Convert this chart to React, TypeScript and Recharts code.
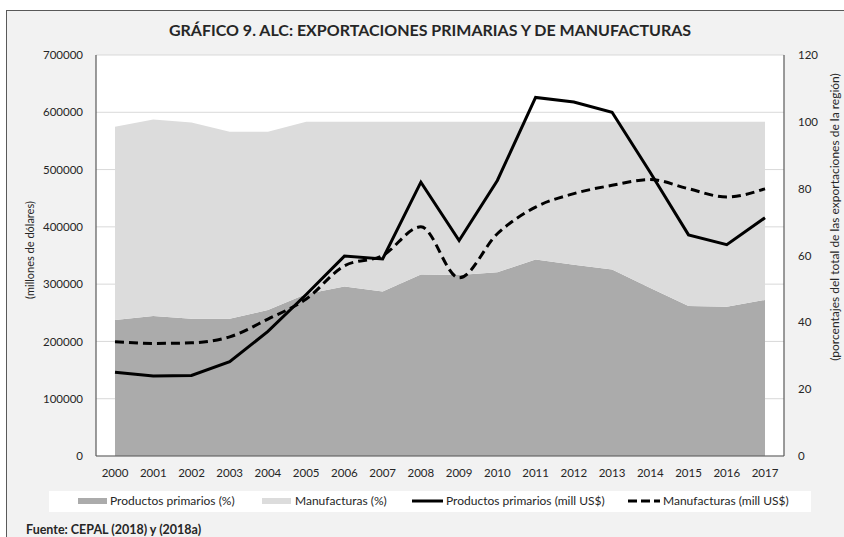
import React from 'react';
import { ComposedChart, Area, Line, XAxis, YAxis, CartesianGrid } from 'recharts';

const years = ['2000', '2001', '2002', '2003', '2004', '2005', '2006', '2007', '2008', '2009', '2010', '2011', '2012', '2013', '2014', '2015', '2016', '2017'];
const primariosPct = [40.7, 41.9, 41.1, 41.1, 43.7, 48.5, 50.7, 49.2, 54.3, 54.2, 55.0, 58.8, 57.2, 55.8, 50.3, 44.9, 44.7, 46.7];
const manufacturasPct = [57.8, 58.8, 58.7, 55.9, 53.3, 51.5, 49.3, 50.8, 45.7, 45.8, 45.0, 41.2, 42.8, 44.2, 49.7, 55.1, 55.3, 53.3];
const primariosMill = [146000, 139500, 140500, 164500, 217500, 282000, 349000, 344000, 478000, 376000, 481000, 626000, 618000, 600000, 495000, 386000, 369000, 416000];
const manufacturasMill = [199500, 196500, 197500, 208000, 239000, 274000, 332000, 350000, 400000, 311000, 388000, 434500, 458000, 472500, 482500, 466500, 452000, 466500];
const leftTicks = [0, 100000, 200000, 300000, 400000, 500000, 600000, 700000];
const rightTicks = [0, 20, 40, 60, 80, 100, 120];

const legendItems = [
  { label: 'Productos primarios (%)', kind: 'box', color: '#ababab', x: 78, tx: 110 },
  { label: 'Manufacturas (%)', kind: 'box', color: '#dcdcdc', x: 262, tx: 295 },
  { label: 'Productos primarios (mill US$)', kind: 'line', color: '#000000', x: 412, tx: 446 },
  { label: 'Manufacturas (mill US$)', kind: 'dash', color: '#000000', x: 628, tx: 663 },
];

const data = years.map((y, i) => ({
  year: y,
  pp: primariosPct[i],
  mp: manufacturasPct[i],
  pm: primariosMill[i],
  mm: manufacturasMill[i],
}));

const FONT = 'Lato, "Open Sans", sans-serif';
const tickStyle = { fontSize: 11.5, fill: '#262626', fontFamily: FONT };

export default function App() {
  return (
    <div style={{ position: 'absolute', left: 0, top: 0, width: 844, height: 537, overflow: 'hidden', background: '#ffffff', fontFamily: FONT }}>
      <div style={{ position: 'absolute', left: 6, top: 10, width: 860, height: 560, border: '1.5px solid #595959', background: '#f2f2f2' }} />
      <div style={{ position: 'absolute', left: 0, top: 0 }}>
        <ComposedChart width={844} height={537} data={data} margin={{ top: 55, right: 0, bottom: 51, left: 0 }}>
          <CartesianGrid xAxisId="bottom" yAxisId="left" vertical={false} stroke="#d9d9d9" fill="#ffffff" fillOpacity={1} />
          <XAxis
            xAxisId="bottom"
            dataKey="year"
            scale="point"
            padding={{ left: 19, right: 19 }}
            height={30}
            interval={0}
            tickLine={false}
            tickSize={0}
            tickMargin={13}
            axisLine={{ stroke: '#595959', strokeWidth: 1.2 }}
            tick={tickStyle}
          />
          <XAxis
            xAxisId="top"
            dataKey="year"
            orientation="top"
            scale="point"
            padding={{ left: 19, right: 19 }}
            height={0}
            tick={false}
            tickLine={false}
            axisLine={{ stroke: '#595959', strokeWidth: 1.2 }}
          />
          <YAxis
            yAxisId="left"
            width={96}
            domain={[0, 700000]}
            ticks={leftTicks}
            interval={0}
            tickLine={false}
            tickSize={0}
            tickMargin={13}
            axisLine={{ stroke: '#595959', strokeWidth: 1.2 }}
            tick={tickStyle}
          />
          <YAxis
            yAxisId="right"
            orientation="right"
            width={60}
            domain={[0, 120]}
            ticks={rightTicks}
            interval={0}
            tickLine={false}
            tickSize={0}
            tickMargin={14}
            axisLine={{ stroke: '#595959', strokeWidth: 1.2 }}
            tick={{ ...tickStyle, textAnchor: 'start' }}
          />
          <Area xAxisId="bottom" yAxisId="right" type="linear" dataKey="pp" stackId="pct" fill="#ababab" fillOpacity={1} stroke="none" isAnimationActive={false} />
          <Area xAxisId="bottom" yAxisId="right" type="linear" dataKey="mp" stackId="pct" fill="#dcdcdc" fillOpacity={1} stroke="none" isAnimationActive={false} />
          <Line xAxisId="bottom" yAxisId="left" type="linear" dataKey="pm" stroke="#000000" strokeWidth={3} dot={false} isAnimationActive={false} />
          <Line xAxisId="bottom" yAxisId="left" type="monotone" dataKey="mm" stroke="#000000" strokeWidth={3} strokeDasharray="9 5" dot={false} isAnimationActive={false} />
        </ComposedChart>
      </div>
      <div style={{ position: 'absolute', left: 0, width: 860, top: 20, textAlign: 'center', fontSize: 16, fontWeight: 700, color: '#262626', whiteSpace: 'nowrap' }}>
        GRÁFICO 9. ALC: EXPORTACIONES PRIMARIAS Y DE MANUFACTURAS
      </div>
      <div style={{ position: 'absolute', left: 29, top: 250, transform: 'translate(-50%, -50%) rotate(-90deg)', fontSize: 11, color: '#262626', whiteSpace: 'nowrap' }}>
        (millones de dólares)
      </div>
      <div style={{ position: 'absolute', left: 834, top: 217, transform: 'translate(-50%, -50%) rotate(-90deg)', fontSize: 12, color: '#262626', whiteSpace: 'nowrap' }}>
        (porcentajes del total de las exportaciones de la región)
      </div>
      <div style={{ position: 'absolute', left: 49, top: 491, width: 762, height: 21, background: '#ffffff' }} />
      {legendItems.map((it) => (
        <React.Fragment key={it.label}>
          <svg style={{ position: 'absolute', left: it.x, top: 496 }} width={34} height={10}>
            {it.kind === 'box' && <rect x={0} y={2} width={29} height={6} fill={it.color} />}
            {it.kind === 'line' && <line x1={0} y1={5} x2={31} y2={5} stroke={it.color} strokeWidth={3} />}
            {it.kind === 'dash' && <line x1={0} y1={5} x2={32} y2={5} stroke={it.color} strokeWidth={3} strokeDasharray="9 4" />}
          </svg>
          <div style={{ position: 'absolute', left: it.tx, top: 494, fontSize: 12, lineHeight: '14px', color: '#262626', whiteSpace: 'nowrap' }}>
            {it.label}
          </div>
        </React.Fragment>
      ))}
      <div style={{ position: 'absolute', left: 26, top: 523, fontSize: 12.5, lineHeight: '14px', fontWeight: 700, color: '#262626', whiteSpace: 'nowrap' }}>
        Fuente: CEPAL (2018) y (2018a)
      </div>
    </div>
  );
}
